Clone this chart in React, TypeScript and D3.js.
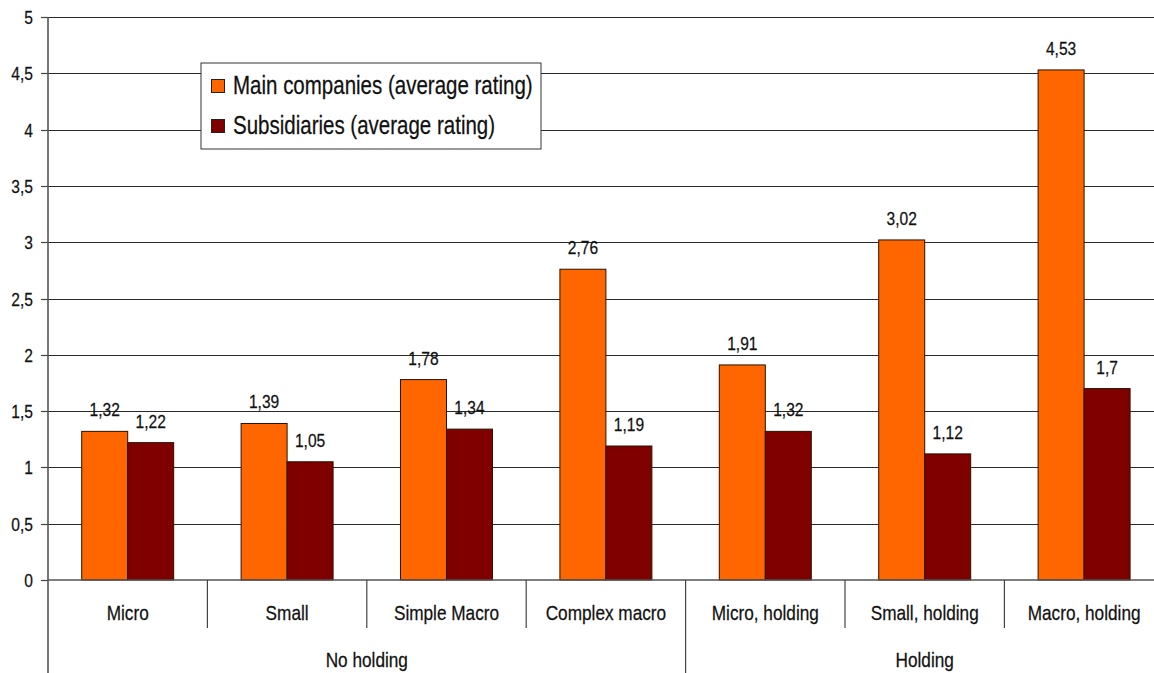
import React from "react";
import * as d3 from "d3";

// Company size categories, grouped by holding structure
const categories = [
  "Micro",
  "Small",
  "Simple Macro",
  "Complex macro",
  "Micro, holding",
  "Small, holding",
  "Macro, holding",
];
const groups = [
  { label: "No holding", from: 0, to: 4 },
  { label: "Holding", from: 4, to: 7 },
];
const seriesNames = ["Main companies (average rating)", "Subsidiaries (average rating)"];
const mainValues = [1.32, 1.39, 1.78, 2.76, 1.91, 3.02, 4.53];
const subsidiaryValues = [1.22, 1.05, 1.34, 1.19, 1.32, 1.12, 1.7];
const yTicks = [0, 0.5, 1, 1.5, 2, 2.5, 3, 3.5, 4, 4.5, 5];
const seriesColors = ["#FF6600", "#800000"];

const W = 1154;
const H = 673;
const FONT = "'Liberation Sans', Arial, sans-serif";

const fmt = (v: number) => String(v).replace(".", ",");

// Narrow text: Liberation Sans squeezed horizontally to an Arial Narrow width
function NText(props: {
  x: number;
  y: number;
  size: number;
  anchor?: "start" | "middle" | "end";
  children: React.ReactNode;
}) {
  return (
    <text
      transform={`translate(${props.x},${props.y}) scale(0.82,1)`}
      textAnchor={props.anchor || "start"}
      fontSize={props.size}
      fill="#111"
      stroke="#111"
      strokeWidth={0.25}
    >
      {props.children}
    </text>
  );
}

export default function App() {
  const left = 48;
  const right = 1163.8;
  const top = 17;
  const bottom = 580;

  const x = d3.scaleBand<string>().domain(categories).range([left, right]).paddingInner(0).paddingOuter(0);
  const xs = d3
    .scaleBand<string>()
    .domain(seriesNames)
    .range([0, x.bandwidth()])
    .paddingInner(0)
    .paddingOuter(0.733);
  const y = d3.scaleLinear().domain([0, 5]).range([bottom, top]);

  const series = [mainValues, subsidiaryValues];
  const edge = (i: number) => left + i * x.step();

  return (
    <svg
      width={W}
      height={H}
      viewBox={`0 0 ${W} ${H}`}
      style={{ position: "absolute", left: 0, top: 0, background: "#fff" }}
      fontFamily={FONT}
    >
      {/* horizontal gridlines */}
      {yTicks.slice(1).map((t) => (
        <line
          key={"g" + t}
          x1={left}
          x2={W}
          y1={Math.round(y(t)) + 0.5}
          y2={Math.round(y(t)) + 0.5}
          stroke="#2a2a2a"
          strokeWidth={1}
        />
      ))}

      {/* y ticks and labels */}
      {yTicks.map((t) => (
        <g key={"t" + t}>
          <line x1={41} x2={left} y1={Math.round(y(t)) + 0.5} y2={Math.round(y(t)) + 0.5} stroke="#444" strokeWidth={1.2} />
          <NText x={33} y={y(t) + 7} size={19} anchor="end">
            {fmt(t)}
          </NText>
        </g>
      ))}

      {/* bars */}
      {categories.map((c, i) =>
        series.map((vals, s) => {
          const bx = (x(c) as number) + (xs(seriesNames[s]) as number);
          const by = y(vals[i]);
          return (
            <g key={c + s}>
              <rect
                x={bx}
                y={by}
                width={xs.bandwidth()}
                height={bottom - by}
                fill={seriesColors[s]}
                stroke="#2b1200"
                strokeWidth={1}
              />
              <NText x={bx + xs.bandwidth() / 2} y={by - 15} size={19} anchor="middle">
                {fmt(vals[i])}
              </NText>
            </g>
          );
        })
      )}

      {/* axes */}
      <line x1={left} x2={W} y1={bottom} y2={bottom} stroke="#555" strokeWidth={1.6} />
      <line x1={left} x2={left} y1={top} y2={H} stroke="#555" strokeWidth={1.6} />

      {/* category dividers and labels */}
      {categories.map((c, i) => (
        <g key={"c" + c}>
          {i > 0 && !groups.some((g) => g.from === i) && (
            <line x1={edge(i)} x2={edge(i)} y1={bottom} y2={628} stroke="#444" strokeWidth={1.2} />
          )}
          <NText x={(x(c) as number) + x.bandwidth() / 2} y={620} size={21} anchor="middle">
            {c}
          </NText>
        </g>
      ))}

      {/* group dividers and labels */}
      {groups.map((g) => (
        <g key={g.label}>
          {g.from > 0 && (
            <line x1={edge(g.from)} x2={edge(g.from)} y1={bottom} y2={H} stroke="#444" strokeWidth={1.2} />
          )}
          <NText x={(edge(g.from) + edge(g.to)) / 2} y={667} size={21} anchor="middle">
            {g.label}
          </NText>
        </g>
      ))}

      {/* legend */}
      <g>
        <rect x={201} y={63} width={340} height={86} fill="#fff" stroke="#333" strokeWidth={1} />
        {seriesNames.map((n, s) => (
          <g key={n}>
            <rect x={211.5} y={79.5 + s * 40} width={13} height={13} fill={seriesColors[s]} stroke="#222" strokeWidth={1} />
            <NText x={233} y={94 + s * 40} size={25}>
              {n}
            </NText>
          </g>
        ))}
      </g>
    </svg>
  );
}
